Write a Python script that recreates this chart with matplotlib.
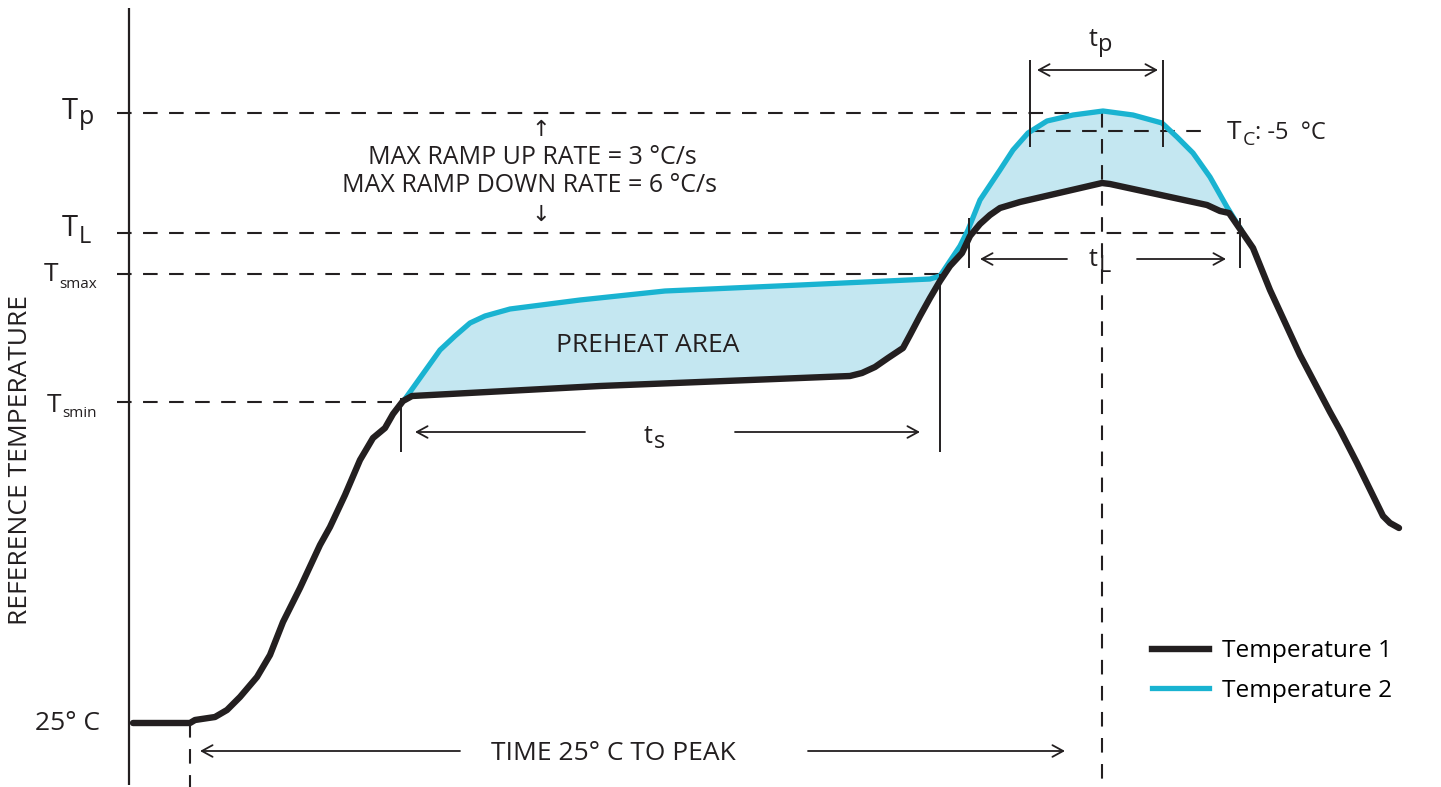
"""
Reflow soldering profile: reference temperature vs. time, with the
preheat / liquidus / peak zones marked.
"""
import matplotlib
matplotlib.use("Agg")
import matplotlib.pyplot as plt
import numpy as np
from matplotlib.lines import Line2D

plt.rcParams["font.family"] = ["Open Sans", "DejaVu Sans"]

INK = "#231f20"
CYAN = "#19b3d1"
FILL = "#c4e7f1"

# ---- profile data (time runs left->right, temperature level runs top->down) ----
time_1 = [133, 190, 195, 215, 227, 240, 257, 270, 283, 300, 320, 330, 345, 360,
          373, 385, 393, 403, 412, 600, 850, 862, 875, 888, 903, 910, 920, 930,
          940, 950, 962, 970, 980, 990, 1000, 1020, 1102, 1110, 1207, 1220,
          1229, 1240, 1253, 1270, 1300, 1330, 1340, 1357, 1383, 1390, 1399]
temp_1 = [723, 723, 720, 717, 710, 697, 677, 655, 622, 588, 545, 527, 495, 460,
          438, 428, 414, 401, 396, 386, 376, 373, 367, 358, 348, 335, 316, 298,
          281, 266, 253, 236, 224, 215, 208, 202, 183, 184, 205, 211,
          213, 229, 248, 290, 355, 412, 430, 463, 516, 523, 528]

time_2 = [405, 420, 440, 455, 470, 485, 510, 580, 665, 800, 930, 940, 950, 960,
          968, 980, 1000, 1013, 1028, 1047, 1073, 1103, 1133, 1162, 1177, 1193,
          1210, 1227, 1240]
temp_2 = [399, 378, 350, 336, 323, 316, 309, 300, 291, 285, 279, 276, 261, 246,
          230, 200, 170, 150, 133, 121, 115, 111, 115, 123, 137, 153,
          177, 207, 228]

# reference levels
T_P, T_C, T_L, T_SMAX, T_SMIN, T_25 = 113, 131, 233, 274, 402, 723
t_start, t_smin, t_smax, t_l1, t_peak, t_p1, t_p2, t_l2 = 190, 401, 940, 969, 1102, 1030, 1163, 1240

fig = plt.figure(figsize=(14.41, 7.87), dpi=100)
ax = fig.add_axes([0, 0, 1, 1])
ax.set_xlim(0, 1441)
ax.set_ylim(787, 0)
ax.axis("off")

# vertical temperature axis
ax.plot([129, 129], [8, 785], color=INK, lw=1.6, solid_capstyle="butt")

dash = dict(color=INK, lw=1.5, ls=(0, (7, 5.5)))
ax.plot([117, t_peak], [T_P, T_P], **dash)
ax.plot([117, t_l2], [T_L, T_L], **dash)
ax.plot([117, t_smax], [T_SMAX, T_SMAX], **dash)
ax.plot([117, t_smin], [T_SMIN, T_SMIN], **dash)
ax.plot([t_p1, 1212], [T_C, T_C], **dash)
ax.plot([t_peak, t_peak], [T_P, 787], **dash)
ax.plot([t_start, t_start], [T_25, 787], **dash)

# shaded zone between the two traces
grid = np.linspace(time_2[0], time_2[-1], 600)
upper = np.interp(grid, time_2, temp_2)
lower = np.interp(grid, time_1, temp_1)
ax.fill_between(grid, upper, lower, where=upper <= lower, color=FILL, lw=0,
                interpolate=True, zorder=1)

ax.plot(time_2, temp_2, color=CYAN, lw=3.8, solid_joinstyle="round", zorder=2)
ax.plot(time_1, temp_1, color=INK, lw=4.6, solid_joinstyle="round",
        solid_capstyle="round", zorder=3)

# interval brackets
thin = dict(color=INK, lw=1.4, solid_capstyle="butt")
ax.plot([t_smin, t_smin], [398, 452], **thin)
ax.plot([t_smax, t_smax], [T_SMAX, 452], **thin)
ax.plot([t_l1, t_l1], [218, 268], **thin)
ax.plot([t_l2, t_l2], [218, 268], **thin)
ax.plot([t_p1, t_p1], [60, 147], **thin)
ax.plot([t_p2, t_p2], [60, 147], **thin)

arrow = dict(arrowstyle="->,head_length=0.55,head_width=0.3", color=INK, lw=1.3,
             shrinkA=0, shrinkB=0, mutation_scale=14)


def span_arrow(x_from, x_to, y):
    ax.annotate("", xy=(x_to, y), xytext=(x_from, y), arrowprops=arrow)


span_arrow(585, 415, 432)
span_arrow(735, 920, 432)
span_arrow(1067, 980, 259)
span_arrow(1137, 1226, 259)
span_arrow(460, 200, 751)
span_arrow(808, 1065, 751)
ax.annotate("", xy=(1037, 70), xytext=(1158, 70),
            arrowprops=dict(arrow, arrowstyle="<->,head_length=0.55,head_width=0.3"))

# symbol labels (letter + subscript)
def sym(x, y, main, sub, size, sub_dx, sub_dy, sub_size):
    ax.text(x, y, main, fontsize=size, color=INK, va="baseline", ha="left")
    ax.text(x + sub_dx, y + sub_dy, sub, fontsize=sub_size, color=INK,
            va="baseline", ha="left")


sym(62, 119, "T", "p", 21, 17, 5, 18)
sym(62, 236, "T", "L", 21, 17, 7, 17)
sym(44, 281, "T", "smax", 19, 15, 7, 11)
sym(47, 412, "T", "smin", 19, 15, 5, 11)
sym(644, 443, "t", "s", 18, 10, 5, 17)
sym(1089, 46, "t", "p", 18, 9, 5, 17)
sym(1089, 266, "t", "L", 18, 10, 6, 17)
sym(1227, 139, "T", "C", 19, 16, 6, 14)
ax.text(1255, 139, ": -5  °C", fontsize=17, color=INK, va="baseline", ha="left")

ax.text(100, T_25, "25° C", fontsize=19, color=INK, ha="right", va="center")
ax.text(21, 460, "REFERENCE TEMPERATURE", fontsize=19, color=INK, rotation=90,
        ha="center", va="center")
ax.text(648, 345, "PREHEAT AREA", fontsize=19, color=INK, ha="center", va="center")
ax.text(613, 753, "TIME 25° C TO PEAK", fontsize=19, color=INK, ha="center",
        va="center")
ax.text(541, 131, "↑", fontsize=16, color=INK, ha="center", va="center")
ax.text(532, 158, "MAX RAMP UP RATE = 3 °C/s", fontsize=18, color=INK,
        ha="center", va="center")
ax.text(530, 186, "MAX RAMP DOWN RATE = 6 °C/s", fontsize=18, color=INK,
        ha="center", va="center")
ax.text(541, 215, "↓", fontsize=16, color=INK, ha="center", va="center")

handles = [Line2D([], [], color=INK, lw=4.6), Line2D([], [], color=CYAN, lw=3.8)]
ax.legend(handles, ["Temperature 1", "Temperature 2"], loc="center left",
          bbox_to_anchor=(1152, 671), bbox_transform=ax.transData, frameon=False,
          fontsize=17.6, handlelength=2.35, handletextpad=0.5, labelspacing=0.62,
          borderpad=0, borderaxespad=0)

fig.savefig("out.png", dpi=100)
